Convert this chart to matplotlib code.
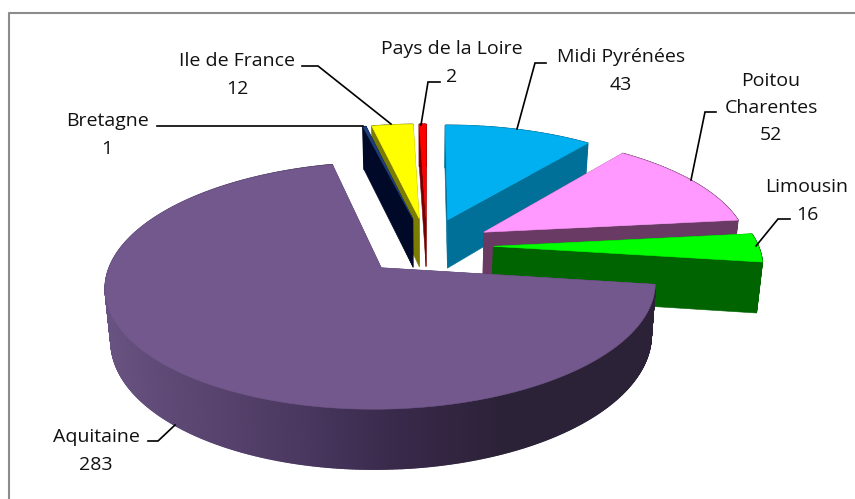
import numpy as np
import matplotlib
matplotlib.use('Agg')
import matplotlib.pyplot as plt
from matplotlib.patches import Polygon

# Slices, clockwise from twelve o'clock
regions = ['Midi Pyrénées', 'Poitou\nCharentes', 'Limousin', 'Aquitaine', 'Bretagne', 'Ile de France', 'Pays de la Loire']
values = [43, 52, 16, 283, 1, 12, 2]

top_colors = ['#00b0f0', '#ff99ff', '#00ff00', '#72588c', '#1f3f7a', '#ffff00', '#ff0000']
wall_colors = ['#007098', '#693a64', '#006400', '#4a3860', '#000a28', '#7c7c00', '#7a0000']

# Draw order, back to front
draw_order = [5, 4, 6, 0, 1, 2, 3]

# Label centre, and leader line in pixels
label_pos = [(621, 71), (771, 108), (807, 201), (96, 451), (107, 135), (237, 75), (452, 63)]
leaders = [
    [(546, 63), (535, 63), (517, 129)],
    [(716, 112), (705, 112), (691, 180)],
    [(790, 219), (778, 219), (756, 246)],
    [(148, 441), (158, 441), (175, 425)],
    [(157, 126), (363, 126)],
    [(302, 66), (318, 66), (391, 124)],
    [(440, 82), (428, 82), (421, 125)],
]

# Camera of the fake 3D view
cx, cy = 427, 246
scale_x, scale_y = 265, 114.7
persp = 0.141
explode = 0.25
depth = 50
bottom_shrink = 0.982


def project(px, py):
    d = 1 + persp * py
    return cx + scale_x * px / d, cy - scale_y * py / d


def bottom_of(x, y, py):
    d = 1 + persp * py
    return cx + (x - cx) * bottom_shrink, y + depth / d


def wall_shade(x):
    # Aquitaine side gets darker going to the right
    xs = [100, 200, 300, 400, 500, 660]
    rgb = np.array([[0x68, 0x53, 0x82], [0x5a, 0x45, 0x70], [0x4a, 0x38, 0x60],
                    [0x38, 0x29, 0x4a], [0x2c, 0x22, 0x38], [0x2c, 0x22, 0x38]]) / 255
    return [np.interp(x, xs, rgb[:, i]) for i in range(3)]


fig = plt.figure(figsize=(8.55, 4.99), dpi=100)
ax = fig.add_axes([0, 0, 1, 1])
ax.set_xlim(0, 855)
ax.set_ylim(499, 0)
ax.axis('off')

# Frame, only left and top show up
ax.plot([9, 9, 855], [499, 13, 13], color='#8c8c8c', lw=1.5)

edges = np.concatenate([[0], np.cumsum(values)]) / sum(values) * 2 * np.pi

for i in draw_order:
    a0, a1 = edges[i], edges[i + 1]
    mid = (a0 + a1) / 2
    ox, oy = explode * np.sin(mid), explode * np.cos(mid)
    theta = np.linspace(a0, a1, max(int(np.degrees(a1 - a0)) * 4, 2) + 1)
    rim_px = ox + np.sin(theta)
    rim_py = oy + np.cos(theta)
    rim_x, rim_y = project(rim_px, rim_py)
    ax_x, ax_y = project(ox, oy)
    bx, by = bottom_of(rim_x, rim_y, rim_py)
    abx, aby = bottom_of(ax_x, ax_y, oy)

    # Cut faces
    for k in (0, -1):
        ax.add_patch(Polygon([(ax_x, ax_y), (rim_x[k], rim_y[k]), (bx[k], by[k]), (abx, aby)],
                             fc=wall_colors[i], ec=wall_colors[i], lw=0.4))
    # Rim wall
    for k in range(len(theta) - 1):
        c = wall_shade(rim_x[k]) if i == 3 else wall_colors[i]
        ax.add_patch(Polygon([(rim_x[k], rim_y[k]), (rim_x[k + 1], rim_y[k + 1]),
                              (bx[k + 1], by[k + 1]), (bx[k], by[k])],
                             fc=c, ec=c, lw=1.0))
    # Top
    ax.add_patch(Polygon(np.vstack([[ax_x, ax_y], np.column_stack([rim_x, rim_y])]),
                         fc=top_colors[i], ec=top_colors[i], lw=0.4))

for line in leaders:
    xs, ys = zip(*line)
    ax.plot(xs, ys, color='black', lw=1.2, solid_joinstyle='miter', zorder=5)

for name, val, (tx, ty) in zip(regions, values, label_pos):
    ax.text(tx, ty, f'{name}\n{val}', ha='center', va='center', family='Open Sans',
            fontsize=14, linespacing=1.65, color='#111111', zorder=6)

fig.savefig('out.png', dpi=100)
